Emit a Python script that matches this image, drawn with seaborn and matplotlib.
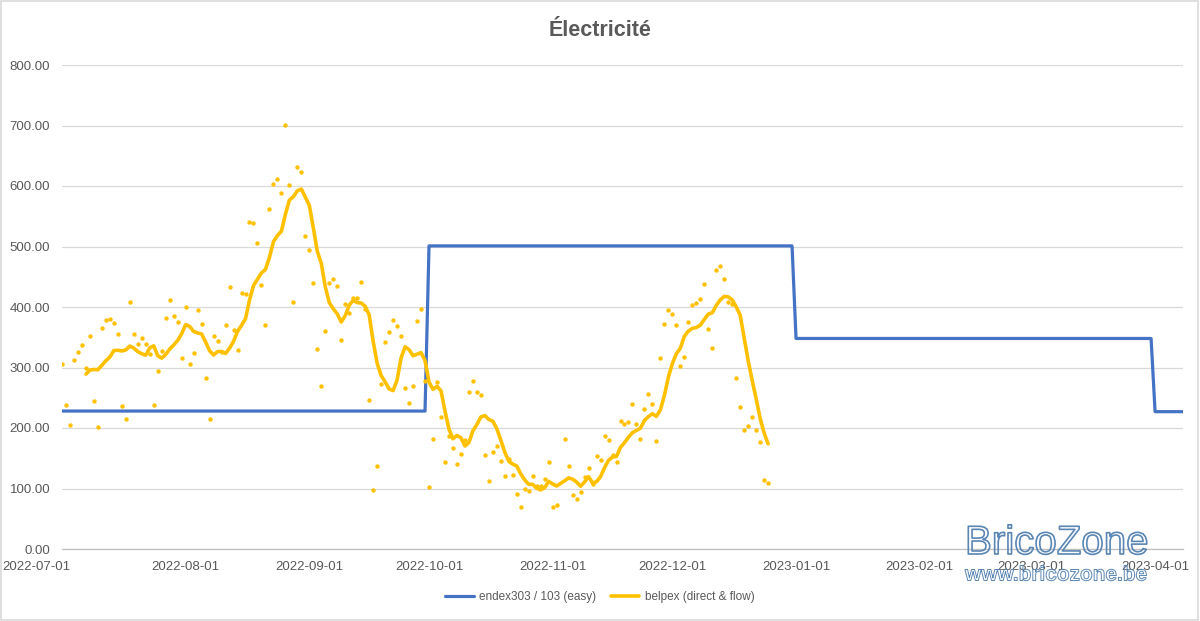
import numpy as np
import pandas as pd
import matplotlib
matplotlib.use("Agg")
import matplotlib.pyplot as plt
import matplotlib.dates as mdates
import matplotlib.patheffects as pe
from matplotlib.lines import Line2D
from matplotlib.patches import Rectangle
from matplotlib.transforms import ScaledTranslation
import seaborn as sns

# ---------------- data ----------------
title = "Électricité"
series_names = ["endex303 / 103 (easy)", "belpex (direct & flow)"]

# endex303 / 103 : fixed price per quarter (daily series)
endex_period_starts = ["2022-07-01", "2022-10-01", "2023-01-01", "2023-04-01"]
endex_values = [228, 501, 348, 227]
endex_last_day = "2023-04-08"

# belpex daily prices from 2022-07-01 (nan = no value that day)
belpex_first_day = "2022-07-01"
belpex_values = [
    305, 238, 205, 313, 325, 338, 299, 352, 245, 202,
    365, 378, 380, 374, 356, 236, 215, 409, 355, 339,
    349, 339, 322, 238, 294, 327, 382, 412, 385, 375,
    316, 400, 305, 324, 395, 372, 282, 215, 352, 344,
    326, 371, 433, 362, 329, 423, 421, 541, 539, 505,
    436, 370, 562, 603, 612, 589, 701, 601, 408, 631,
    623, 517, 495, 439, 331, 269, 360, 440, 446, 435,
    345, 405, 390, 415, 415, 441, 397, 246, 97, 138,
    273, 342, 358, 379, 369, 352, 266, 241, 270, 377,
    397, 278, 102, 182, 276, 219, 143, 186, 167, 140,
    157, 180, 259, 278, 259, 255, 155, 113, 160, 171,
    146, 120, 149, 123, 91, 69, 100, 96, 120, 104,
    104, 116, 143, 69, 73, np.nan, 181, 137, 89, 82,
    95, 119, 134, 107, 153, 147, 186, 180, 156, 143,
    212, 206, 210, 239, 207, 181, 232, 257, 239, 179,
    316, 372, 395, 388, 371, 302, 317, 376, 403, 406,
    414, 438, 364, 332, 461, 467, 447, 408, 405, 283,
    235, 197, 204, 219, 197, 177, 114, 109,
]
moving_average_window = 7

y_ticks = [0, 100, 200, 300, 400, 500, 600, 700, 800]
x_tick_dates = ["2022-07-01", "2022-08-01", "2022-09-01", "2022-10-01", "2022-11-01",
                "2022-12-01", "2023-01-01", "2023-02-01", "2023-03-01", "2023-04-01"]

# ---------------- frames ----------------
endex_days = pd.date_range(endex_period_starts[0], endex_last_day, freq="D")
endex = (pd.Series(endex_values, index=pd.to_datetime(endex_period_starts))
         .reindex(endex_days, method="ffill"))
endex_df = pd.DataFrame({"date": endex.index, "value": endex.values})

belpex_days = pd.date_range(belpex_first_day, periods=len(belpex_values), freq="D")
belpex_df = pd.DataFrame({"date": belpex_days, "value": belpex_values}).dropna()
belpex_df["ma"] = belpex_df["value"].rolling(moving_average_window).mean()
ma_df = belpex_df.dropna(subset=["ma"])

# ---------------- style ----------------
sns.set_theme(style="white")
plt.rcParams["font.family"] = ["Liberation Sans", "DejaVu Sans"]

BLUE = "#4472C4"
GOLD = "#FFC000"
TXT = "#595959"
GRID = "#D9D9D9"

fig = plt.figure(figsize=(12, 6.21), dpi=100)
ax = fig.add_axes([62 / 1200, 1 - 549 / 621, (1183 - 62) / 1200, (549 - 65) / 621])

sns.lineplot(data=endex_df, x="date", y="value", ax=ax, color=BLUE, linewidth=2.3,
             zorder=3)
sns.scatterplot(data=belpex_df, x="date", y="value", ax=ax, color=GOLD, s=10,
                linewidth=0, zorder=4)
sns.lineplot(data=ma_df, x="date", y="ma", ax=ax, color=GOLD, linewidth=2.6, zorder=5)

ax.set_ylim(0, 800)
ax.set_xlim(pd.Timestamp(x_tick_dates[0]), pd.Timestamp(endex_last_day))
ax.set_yticks(y_ticks)
ax.set_yticklabels([f"{v:.2f}" for v in y_ticks])
ax.set_xticks(pd.to_datetime(x_tick_dates))
ax.xaxis.set_major_formatter(mdates.DateFormatter("%Y-%m-%d"))
ax.set_xlabel("")
ax.set_ylabel("")

ax.yaxis.grid(True, color=GRID, linewidth=0.9)
ax.xaxis.grid(False)
for s in ["top", "right", "left"]:
    ax.spines[s].set_visible(False)
ax.spines["bottom"].set_color("#BFBFBF")
ax.spines["bottom"].set_linewidth(0.9)
ax.tick_params(axis="y", length=0, pad=8.5, labelsize=9.5, labelcolor=TXT)
ax.tick_params(axis="x", length=4, width=0.9, color="#BFBFBF", direction="out",
               pad=5, labelsize=9.5, labelcolor=TXT)
if ax.get_legend() is not None:
    ax.get_legend().remove()

# first date label is pushed inside the figure, as in the reference
fig.canvas.draw()
first_label = ax.get_xticklabels()[0]
first_label.set_transform(first_label.get_transform()
                          + ScaledTranslation(-0.26, 0, fig.dpi_scale_trans))

fig.text(0.5, 1 - 31 / 621, title, ha="center", va="center", fontsize=15.5,
         fontweight="bold", color=TXT)

handles = [Line2D([], [], color=BLUE, linewidth=2.3),
           Line2D([], [], color=GOLD, linewidth=2.6)]
fig.legend(handles, series_names, loc="center", bbox_to_anchor=(0.5, 1 - 597 / 621),
           ncol=2, frameon=False, fontsize=8.5, handlelength=2.4, columnspacing=1.2,
           handletextpad=0.5, labelcolor=TXT)

# watermark (outlined text)
wm = dict(color=(1, 1, 1, 0), ha="left", va="center", zorder=10)
fig.text(965 / 1200, 1 - 543 / 621, "BricoZone", fontsize=29,
         path_effects=[pe.Stroke(linewidth=1.2, foreground="#5A86B4")], **wm)
fig.text(965 / 1200, 1 - 575 / 621, "www.bricozone.be", fontsize=15, fontweight="bold",
         path_effects=[pe.Stroke(linewidth=0.7, foreground="#5A86B4")], **wm)

fig.patches.append(Rectangle((0.001, 0.002), 0.997, 0.996, transform=fig.transFigure,
                             fill=False, edgecolor=GRID, linewidth=1.2))

fig.savefig("out.png", dpi=100)
